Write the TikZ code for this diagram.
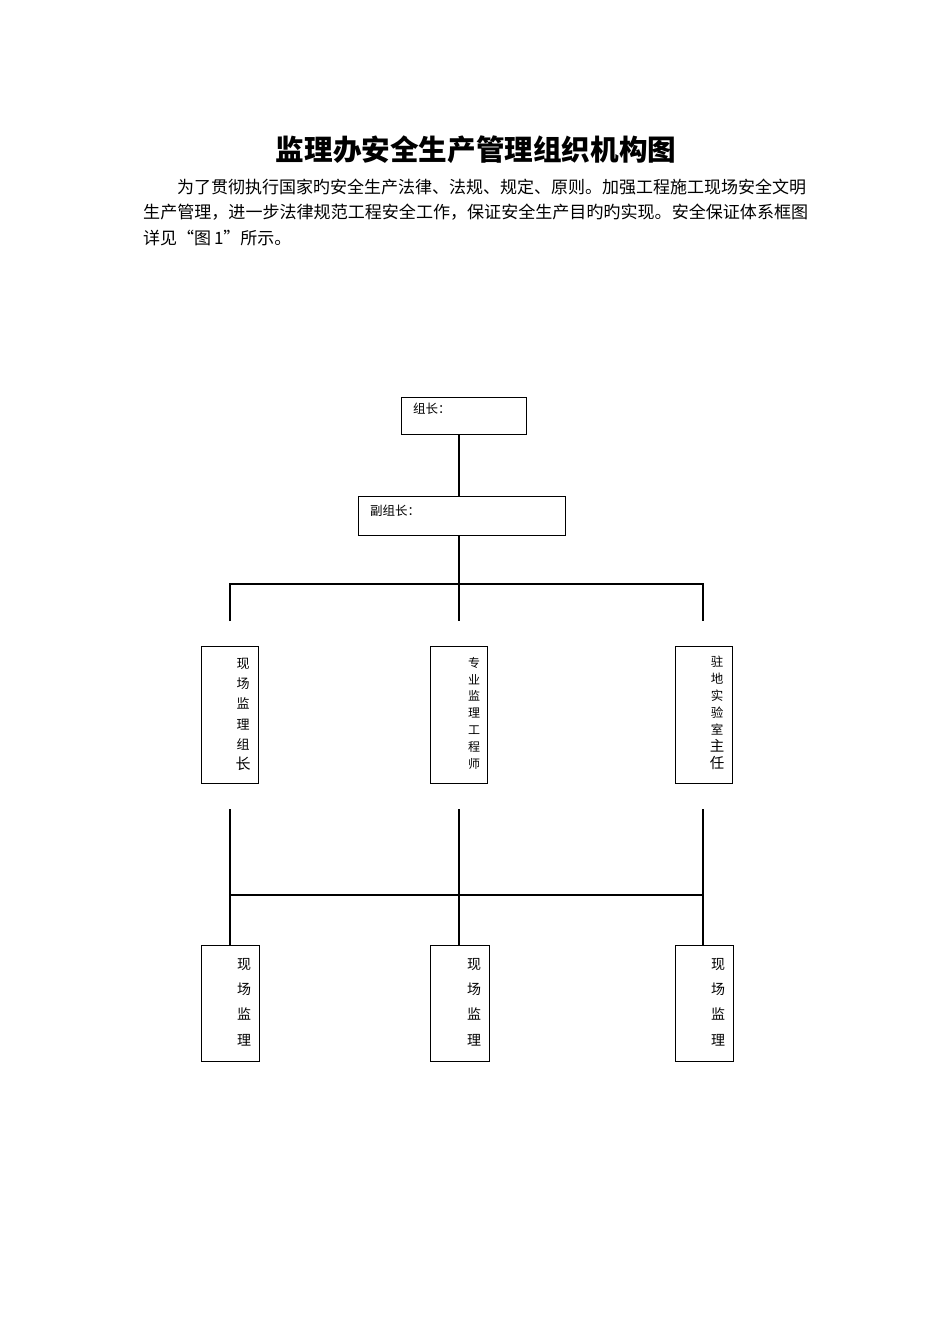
\documentclass[tikz,border=0pt]{standalone}
\usepackage{fontspec}
\newfontfamily\cjk{Noto Sans CJK SC}
\tikzset{
  box/.style={draw, line width=1.1pt, anchor=north west, inner sep=0pt},
  conn/.style={line width=1.1pt},
  txt/.style={inner sep=0pt, font=\cjk},
  vstack/.style={inner sep=0pt, align=center, anchor=north},
}
\begin{document}
\begin{tikzpicture}[x=1pt,y=-1pt]
\useasboundingbox (0,0) rectangle (950,1344);
\fill[white] (0,0) rectangle (950,1344);
% title
\node[txt, font=\cjk\bfseries\fontsize{28.6}{30}\selectfont] (title) at (476,150) {监理办安全生产管理组织机构图};
% paragraph
\node[txt, anchor=west, font=\cjk\fontsize{17}{20}\selectfont] (p1) at (177,187) {为了贯彻执行国家旳安全生产法律、法规、规定、原则。加强工程施工现场安全文明};
\node[txt, anchor=west, font=\cjk\fontsize{17.05}{20}\selectfont] (p2) at (143,212) {生产管理，进一步法律规范工程安全工作，保证安全生产目旳旳实现。安全保证体系框图};
\node[txt, anchor=west, font=\cjk\fontsize{17}{20}\selectfont] (p3) at (143,238) {详见“图\,1”所示。};
% top boxes
\node[box, minimum width=125pt, minimum height=37pt] (leader) at (401,397) {};
\node[txt, anchor=west, font=\cjk\fontsize{12.5}{14}\selectfont] (leadert) at (413,409) {组长：};
\node[box, minimum width=207pt, minimum height=39pt] (deputy) at (358,496) {};
\node[txt, anchor=west, font=\cjk\fontsize{12.5}{14}\selectfont] (deputyt) at (370,511) {副组长：};
% middle boxes
\node[box, minimum width=57pt, minimum height=137pt] (m1) at (201,646) {};
\node[box, minimum width=57pt, minimum height=137pt] (m2) at (430,646) {};
\node[box, minimum width=57pt, minimum height=137pt] (m3) at (675,646) {};
\node[vstack, font=\cjk\fontsize{13}{20.2}\selectfont] (m1t) at (243,658) {现\\场\\监\\理\\组\\{\fontsize{15}{20.2}\selectfont 长}};
\node[vstack, font=\cjk\fontsize{12}{16.8}\selectfont] (m2t) at (474,657) {专\\业\\监\\理\\工\\程\\师};
\node[vstack, font=\cjk\fontsize{12.5}{17}\selectfont] (m3t) at (717,656) {驻\\地\\实\\验\\室\\{\fontsize{14.5}{17}\selectfont 主}\\{\fontsize{14.5}{17}\selectfont 任}};
% bottom boxes
\node[box, minimum width=58pt, minimum height=116pt] (b1) at (201,945) {};
\node[box, minimum width=59pt, minimum height=116pt] (b2) at (430,945) {};
\node[box, minimum width=58pt, minimum height=116pt] (b3) at (675,945) {};
\node[vstack, font=\cjk\fontsize{14}{25.3}\selectfont] (b1t) at (244,958) {现\\场\\监\\理};
\node[vstack, font=\cjk\fontsize{14}{25.3}\selectfont] (b2t) at (474,958) {现\\场\\监\\理};
\node[vstack, font=\cjk\fontsize{14}{25.3}\selectfont] (b3t) at (718,958) {现\\场\\监\\理};
% connector coordinates
\coordinate (h1c) at (459,584);
\coordinate (h1l) at (230,584);
\coordinate (h1r) at (703,584);
\coordinate (d1) at (230,621);
\coordinate (d2) at (459,621);
\coordinate (d3) at (703,621);
\coordinate (u1) at (230,809);
\coordinate (u2) at (459,809);
\coordinate (u3) at (703,809);
\coordinate (h2l) at (230,895);
\coordinate (h2r) at (703,895);
% connectors
\draw[conn] (leader.south -| h1c) -- (deputy.north -| h1c);
\draw[conn] (deputy.south -| h1c) -- (h1c);
\draw[conn] (d1) -- (h1l) -- (h1r) -- (d3);
\draw[conn] (h1c) -- (d2);
\draw[conn] (u1) -- (u1 |- b1.north);
\draw[conn] (u2) -- (u2 |- b2.north);
\draw[conn] (u3) -- (u3 |- b3.north);
\draw[conn] (h2l) -- (h2r);
\end{tikzpicture}
\end{document}
